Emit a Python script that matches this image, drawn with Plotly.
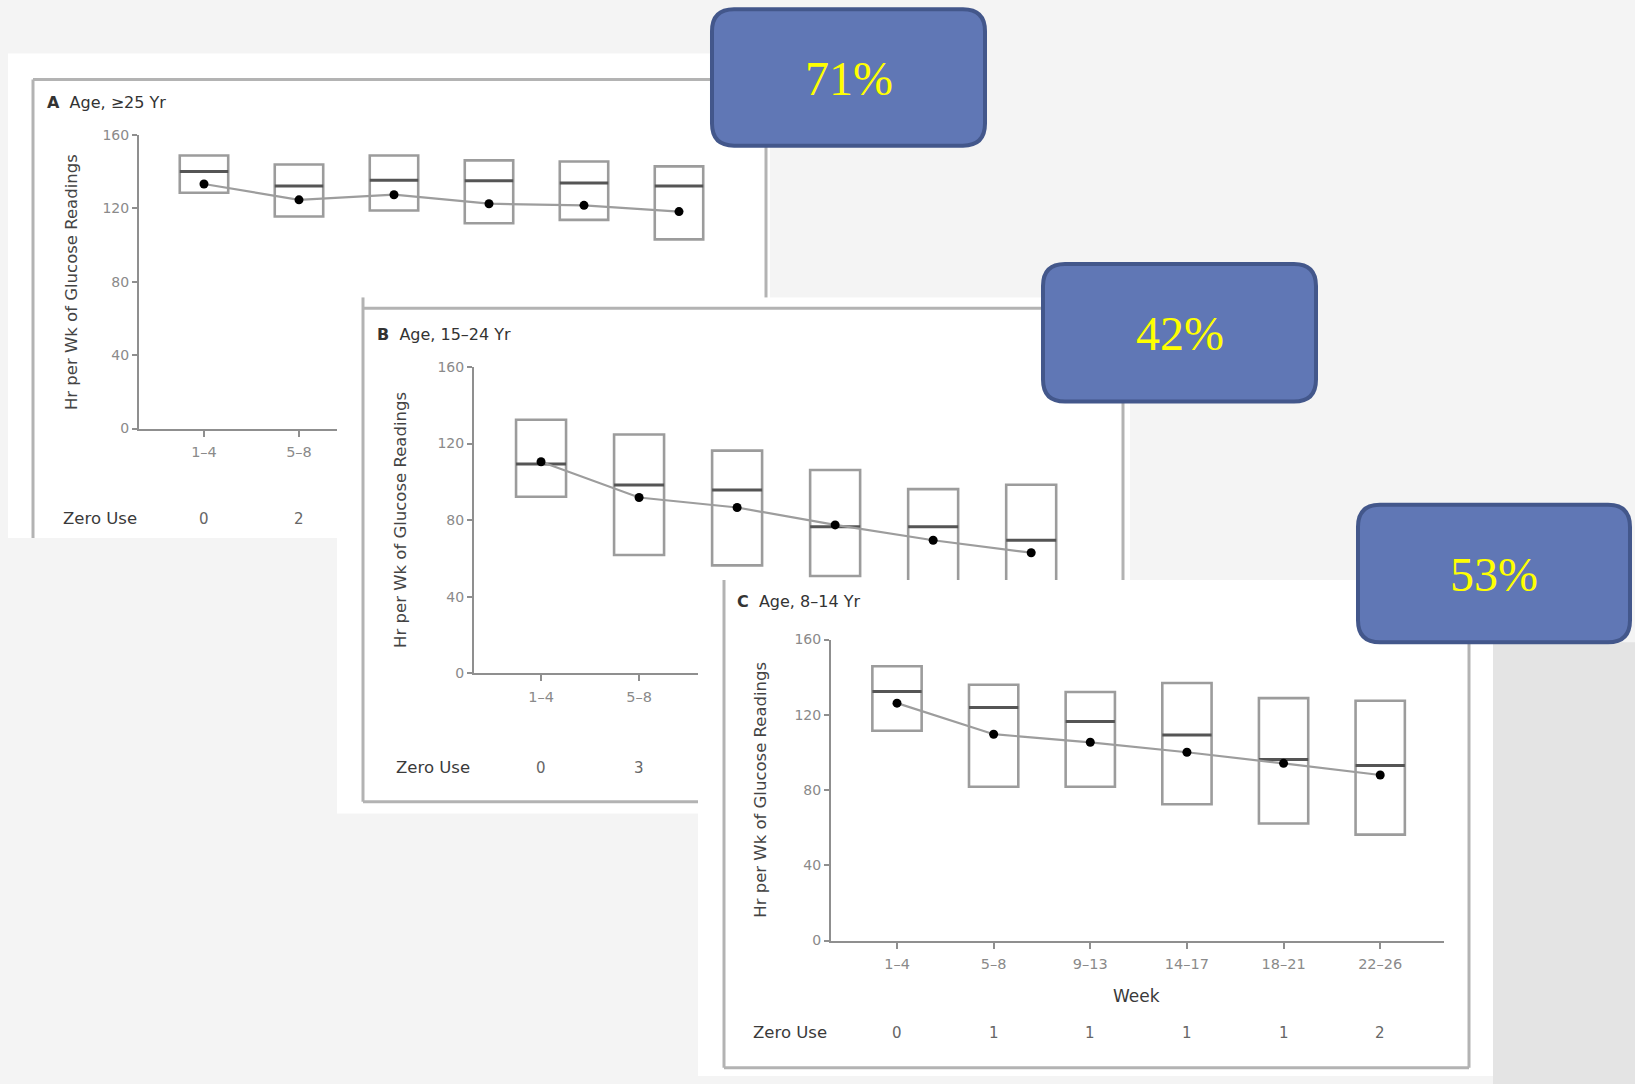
import plotly.graph_objects as go

W, H = 1635, 1084
# measured vertical calibration of the photographed page (observed = Y_OFF + Y_SCALE * placed)
Y_OFF, Y_SCALE = 8.8, 0.982
Y_MAX = Y_OFF + Y_SCALE * H  # lowest target position that still lies on the figure

# ---------------- data ----------------
weeks = ["1–4", "5–8", "9–13", "14–17", "18–21", "22–26"]
y_ticks = [0, 40, 80, 120, 160]

# Panel A: Age >=25 yr
a_q1 = [128.4, 115.4, 118.7, 111.8, 113.6, 103.0]
a_q3 = [148.6, 143.7, 148.6, 146.0, 145.4, 142.7]
a_median = [139.9, 132.1, 135.2, 134.9, 133.6, 132.1]
a_mean = [133.1, 124.5, 127.3, 122.4, 121.5, 118.1]
a_zero_use = ["0", "2"]

# Panel B: Age 15-24 yr
b_q1 = [92.2, 61.8, 56.4, 50.8, 44.0, 40.0]
b_q3 = [132.4, 124.7, 116.3, 106.2, 96.2, 98.5]
b_median = [109.3, 98.3, 95.7, 76.5, 76.5, 69.5]
b_mean = [110.5, 91.8, 86.6, 77.5, 69.5, 63.0]
b_zero_use = ["0", "3"]

# Panel C: Age 8-14 yr
c_q1 = [111.5, 81.8, 81.8, 72.5, 62.2, 56.3]
c_q3 = [145.8, 136.0, 132.1, 136.9, 128.9, 127.5]
c_median = [132.4, 123.9, 116.4, 109.3, 96.3, 93.0]
c_mean = [126.2, 109.7, 105.4, 100.1, 94.2, 88.0]
c_zero_use = ["0", "1", "1", "1", "1", "2"]

panel_titles = ["<b>A</b>  Age, ≥25 Yr", "<b>B</b>  Age, 15–24 Yr", "<b>C</b>  Age, 8–14 Yr"]
y_title = "Hr per Wk of Glucose Readings"
callout_labels = ["71%", "42%", "53%"]

# ---------------- helpers ----------------
def px_x(v):
    return v / W


def px_y(v):
    return 1 - ((v - Y_OFF) / Y_SCALE) / H


def aid(n):
    return "" if n == 1 else str(n)


SANS = "DejaVu Sans, Liberation Sans, sans-serif"
SERIF = "Liberation Serif, DejaVu Serif, serif"
BG = "#f4f4f4"

panels = [
    dict(q1=a_q1, q3=a_q3, med=a_median, mean=a_mean, zero=a_zero_use,
         frame=(8, 54, 770, 537),
         lines=[(33, 80, 766, 80), (33, 80, 33, 537), (766, 80, 766, 537)],
         ax_x=(139, 736), ax_y=(428, 135), xr=(-0.684, 5.6),
         title=(45, 103), ytitle=(71, 282), zero_y=518, zero_x=100),
    dict(q1=b_q1, q3=b_q3, med=b_median, mean=b_mean, zero=b_zero_use,
         frame=(337, 297, 1130, 812),
         lines=[(363, 308, 1123, 308), (363, 297, 363, 800), (363, 800, 1123, 800), (1123, 308, 1123, 800)],
         ax_x=(474, 1090), ax_y=(672, 366.5), xr=(-0.684, 5.6),
         title=(375, 334), ytitle=(401, 519), zero_y=766, zero_x=433),
    dict(q1=c_q1, q3=c_q3, med=c_median, mean=c_mean, zero=c_zero_use,
         frame=(698, 579, 1493, Y_MAX),
         lines=[(724, 579, 724, 1065), (724, 1065, 1469, 1065), (1469, 579, 1469, 1065)],
         ax_x=(831, 1444), ax_y=(938.3, 638.3), xr=(-0.683, 5.66),
         title=(735, 600), ytitle=(761, 788), zero_y=1030, zero_x=790),
]

traces = []
layout = dict(
    width=W, height=H, autosize=False,
    margin=dict(l=0, r=0, t=0, b=0),
    paper_bgcolor=BG, plot_bgcolor="rgba(0,0,0,0)",
    showlegend=False,
    shapes=[], annotations=[],
)

# background strip on the right (lower layer, under all panels)
layout["shapes"].append(dict(type="rect", xref="paper", yref="paper",
                             x0=px_x(1493), x1=1.01, y0=-0.02, y1=px_y(641),
                             fillcolor="#e4e4e4", line=dict(width=0), layer="below"))

BOX_W = 0.51
TICK_GREY = "#8f8f8f"
for i, p in enumerate(panels):
    nf = 2 * i + 1  # frame subplot (white page of the panel)
    nd = 2 * i + 2  # data subplot
    fx0, fy0, fx1, fy1 = p["frame"]
    fxa, fya = f"x{aid(nf)}", f"y{aid(nf)}"
    layout[f"xaxis{aid(nf)}"] = dict(domain=[px_x(fx0), px_x(fx1)], range=[fx0, fx1],
                                      visible=False, fixedrange=True, anchor=fya)
    layout[f"yaxis{aid(nf)}"] = dict(domain=[max(px_y(fy1), 0.0), px_y(fy0)], range=[fy1, fy0],
                                      visible=False, fixedrange=True, anchor=fxa)
    traces.append(go.Scatter(x=[], y=[], xaxis=fxa, yaxis=fya,
                             showlegend=False, hoverinfo="skip"))
    layout["shapes"].append(dict(type="rect", xref=fxa, yref=fya, x0=fx0, y0=fy0, x1=fx1, y1=fy1,
                                 fillcolor="#ffffff", line=dict(width=0), layer="below"))
    for (lx0, ly0, lx1, ly1) in p["lines"]:
        layout["shapes"].append(dict(type="line", xref=fxa, yref=fya,
                                     x0=lx0, y0=ly0, x1=lx1, y1=ly1, layer="below",
                                     line=dict(color="#b3b3b3", width=3)))

    ax0, ax1 = p["ax_x"]
    ay0, ay1 = p["ax_y"]
    xa, ya = f"x{aid(nd)}", f"y{aid(nd)}"
    layout[f"xaxis{aid(nd)}"] = dict(
        domain=[px_x(ax0), px_x(ax1)], range=list(p["xr"]), anchor=ya,
        type="category", categoryorder="array", categoryarray=weeks,
        showline=True, linecolor=TICK_GREY, linewidth=2, showgrid=False, zeroline=False,
        ticks="outside", ticklen=6, tickwidth=1.5, tickcolor=TICK_GREY,
        tickfont=dict(family=SANS, size=14.5, color="#8a8a8a"), ticklabelstandoff=3,
        fixedrange=True)
    layout[f"yaxis{aid(nd)}"] = dict(
        domain=[px_y(ay0), px_y(ay1)], range=[0, 160], anchor=xa,
        tickvals=y_ticks, showline=True, linecolor=TICK_GREY, linewidth=2,
        showgrid=False, zeroline=False, ticks="outside", ticklen=5, tickwidth=1.5,
        tickcolor=TICK_GREY, tickfont=dict(family=SANS, size=14, color="#8a8a8a"),
        fixedrange=True)

    spacing = (ax1 - ax0) / (p["xr"][1] - p["xr"][0])
    med_size = BOX_W * spacing / 1.4

    traces.append(go.Bar(
        x=weeks, y=[hi - lo for hi, lo in zip(p["q3"], p["q1"])], base=p["q1"],
        width=BOX_W, xaxis=xa, yaxis=ya,
        marker=dict(color="#ffffff", line=dict(color="#9c9c9c", width=2.6)),
        showlegend=False, hoverinfo="skip"))
    traces.append(go.Scatter(
        x=weeks, y=p["med"], mode="markers", xaxis=xa, yaxis=ya,
        marker=dict(symbol="line-ew", size=med_size, color="#555555",
                    line=dict(color="#555555", width=3)),
        showlegend=False, hoverinfo="skip"))
    traces.append(go.Scatter(
        x=weeks, y=p["mean"], mode="lines+markers", xaxis=xa, yaxis=ya,
        line=dict(color="#9d9d9d", width=2.2),
        marker=dict(symbol="circle", size=9, color="#000000"),
        showlegend=False, hoverinfo="skip"))

    # texts
    tx, ty = p["title"]
    layout["annotations"].append(dict(
        text=panel_titles[i], xref="paper", yref="paper", x=px_x(tx), y=px_y(ty),
        xanchor="left", yanchor="middle", showarrow=False,
        font=dict(family=SANS, size=16, color="#333333")))
    yx, yy = p["ytitle"]
    layout["annotations"].append(dict(
        text=y_title, xref="paper", yref="paper", x=px_x(yx), y=px_y(yy),
        xanchor="center", yanchor="middle", textangle=-90, showarrow=False,
        font=dict(family=SANS, size=16.5, color="#444444")))
    layout["annotations"].append(dict(
        text="Zero Use", xref="paper", yref="paper", x=px_x(p["zero_x"]), y=px_y(p["zero_y"]),
        xanchor="center", yanchor="middle", showarrow=False,
        font=dict(family=SANS, size=16.5, color="#3a3a3a")))
    for wk, val in zip(weeks, p["zero"]):
        layout["annotations"].append(dict(
            text=val, xref=xa, yref="paper", x=wk, y=px_y(p["zero_y"]),
            xanchor="center", yanchor="middle", showarrow=False,
            font=dict(family=SANS, size=15, color="#666666")))

layout["annotations"].append(dict(
    text="Week", xref="paper", yref="paper", x=px_x(1136), y=px_y(994),
    xanchor="center", yanchor="middle", showarrow=False,
    font=dict(family=SANS, size=17, color="#3a3a3a")))


def rrect_path(x0, y0, x1, y1, r):
    pts = [
        ("M", [(x0 + r, y0)]), ("L", [(x1 - r, y0)]), ("Q", [(x1, y0), (x1, y0 + r)]),
        ("L", [(x1, y1 - r)]), ("Q", [(x1, y1), (x1 - r, y1)]), ("L", [(x0 + r, y1)]),
        ("Q", [(x0, y1), (x0, y1 - r)]), ("L", [(x0, y0 + r)]), ("Q", [(x0, y0), (x0 + r, y0)]),
    ]
    s = ""
    for cmd, coords in pts:
        s += cmd + " ".join(f"{px_x(a):.5f},{px_y(b):.5f}" for a, b in coords) + " "
    return s + "Z"


callout_boxes = [(712, 10, 985, 146), (1043, 264, 1316, 401), (1358, 504, 1630, 641)]
for (bx0, by0, bx1, by1), lab in zip(callout_boxes, callout_labels):
    layout["shapes"].append(dict(type="path", xref="paper", yref="paper",
                                 path=rrect_path(bx0, by0, bx1, by1, 22),
                                 fillcolor="#6077b5", line=dict(color="#43578b", width=4),
                                 layer="above"))
    layout["annotations"].append(dict(
        text=lab, xref="paper", yref="paper", x=px_x((bx0 + bx1) / 2), y=px_y((by0 + by1) / 2 + 1),
        xanchor="center", yanchor="middle", showarrow=False,
        font=dict(family=SERIF, size=48, color="#ffff00")))

fig = go.Figure(data=traces, layout=layout)
fig.write_html(
    "out.html",
    config={"displayModeBar": False},
    post_script=(f"document.body.style.margin='0';document.body.style.overflow='hidden';"
                 f"document.body.style.background='{BG}';"),
)
